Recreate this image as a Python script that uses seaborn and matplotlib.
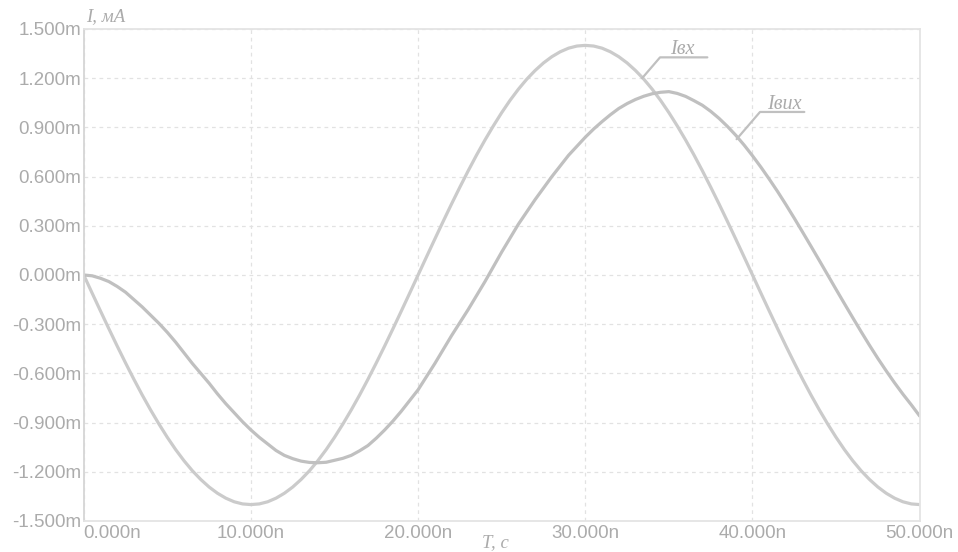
import matplotlib
matplotlib.use("Agg")
import matplotlib.pyplot as plt
import pandas as pd
import seaborn as sns

# Time in ns (0.5 ns steps), currents in mA
t_ns = [i * 0.5 for i in range(101)]

i_in = [0.000, -0.110, -0.219, -0.327, -0.433, -0.536, -0.636, -0.732, -0.823, -0.909, -0.990,
        -1.065, -1.133, -1.194, -1.247, -1.293, -1.331, -1.361, -1.383, -1.396, -1.400,
        -1.396, -1.383, -1.361, -1.331, -1.293, -1.247, -1.194, -1.133, -1.065, -0.990,
        -0.909, -0.823, -0.732, -0.636, -0.536, -0.433, -0.327, -0.219, -0.110, 0.000,
        0.110, 0.219, 0.327, 0.433, 0.536, 0.636, 0.732, 0.823, 0.909, 0.990,
        1.065, 1.133, 1.194, 1.247, 1.293, 1.331, 1.361, 1.383, 1.396, 1.400,
        1.396, 1.383, 1.361, 1.331, 1.293, 1.247, 1.194, 1.133, 1.065, 0.990,
        0.909, 0.823, 0.732, 0.636, 0.536, 0.433, 0.327, 0.219, 0.110, 0.000,
        -0.110, -0.219, -0.327, -0.433, -0.536, -0.636, -0.732, -0.823, -0.909, -0.990,
        -1.065, -1.133, -1.194, -1.247, -1.293, -1.331, -1.361, -1.383, -1.396, -1.400]

i_out = [0.00, -0.005, -0.02, -0.04, -0.07, -0.105, -0.15, -0.195, -0.245, -0.295, -0.35,
         -0.41, -0.475, -0.54, -0.60, -0.66, -0.725, -0.785, -0.84, -0.895, -0.945,
         -0.99, -1.03, -1.07, -1.10, -1.12, -1.135, -1.143, -1.145, -1.142, -1.13,
         -1.118, -1.10, -1.072, -1.04, -0.995, -0.945, -0.89, -0.83, -0.765, -0.70,
         -0.62, -0.54, -0.455, -0.37, -0.29, -0.21, -0.125, -0.04, 0.05, 0.14,
         0.225, 0.31, 0.385, 0.46, 0.53, 0.60, 0.665, 0.73, 0.785, 0.84,
         0.89, 0.935, 0.977, 1.015, 1.045, 1.07, 1.09, 1.105, 1.114, 1.118,
         1.107, 1.089, 1.063, 1.035, 0.998, 0.955, 0.906, 0.852, 0.792, 0.727,
         0.658, 0.585, 0.509, 0.429, 0.346, 0.261, 0.175, 0.088, 0.0, -0.088,
         -0.175, -0.261, -0.346, -0.429, -0.509, -0.585, -0.658, -0.727, -0.792, -0.86]

y_ticks = [-1.5, -1.2, -0.9, -0.6, -0.3, 0.0, 0.3, 0.6, 0.9, 1.2, 1.5]
x_ticks = [0, 10, 20, 30, 40, 50]

df = pd.DataFrame({"t": t_ns, "in": i_in, "out": i_out})

sns.set_theme(style="white")
plt.rcParams["font.family"] = ["Liberation Sans", "DejaVu Sans"]

label_grey = "#ababab"

fig = plt.figure(figsize=(9.58, 5.52), dpi=100)
ax = fig.add_axes([0.0874, 0.0562, 0.8726, 0.8913])

sns.lineplot(data=df, x="t", y="in", ax=ax, color="#cbcbcb", linewidth=2.3)
sns.lineplot(data=df, x="t", y="out", ax=ax, color="#c0c0c0", linewidth=2.3)

ax.set_xlim(0, 50)
ax.set_ylim(-1.5, 1.5)
ax.set_xticks(x_ticks)
ax.set_yticks(y_ticks)
ax.set_xticklabels(["%.3fn" % v for v in x_ticks])
ax.set_yticklabels(["%.3fm" % v for v in y_ticks])
ax.get_xticklabels()[0].set_horizontalalignment("left")
ax.tick_params(axis="both", length=0, labelsize=13.5, labelcolor=label_grey)
ax.tick_params(axis="x", pad=3)
ax.tick_params(axis="y", pad=2)
ax.set_xlabel("")
ax.set_ylabel("")

ax.grid(True, color="#e2e2e2", linestyle=(0, (3, 3)), linewidth=0.9)
for side, sp in ax.spines.items():
    sp.set_visible(True)
    sp.set_color("#e4e4e4")
    sp.set_linewidth(1.3)
ax.spines["left"].set_color("#d6d6d6")

serif = ["Liberation Serif", "DejaVu Serif"]
ax.text(0.003, 1.008, "I, мА", transform=ax.transAxes, fontsize=13.5, style="italic",
        family=serif, color=label_grey, ha="left", va="bottom")
ax.text(0.492, -0.026, "T, с", transform=ax.transAxes, fontsize=13.5, style="italic",
        family=serif, color=label_grey, ha="center", va="top")

# curve labels with leader lines
ann = dict(color="#c0c0c0", linewidth=1.6)
ax.plot([33.4, 34.47, 37.3], [1.20, 1.327, 1.327], **ann)
ax.text(35.05, 1.345, "Iвх", fontsize=14.5, style="italic", family=serif,
        color=label_grey, ha="left", va="baseline")
ax.plot([39.05, 40.45, 43.1], [0.828, 0.994, 0.994], **ann)
ax.text(40.85, 1.012, "Iвих", fontsize=14.5, style="italic", family=serif,
        color=label_grey, ha="left", va="baseline")

fig.savefig("out.png", dpi=100)
